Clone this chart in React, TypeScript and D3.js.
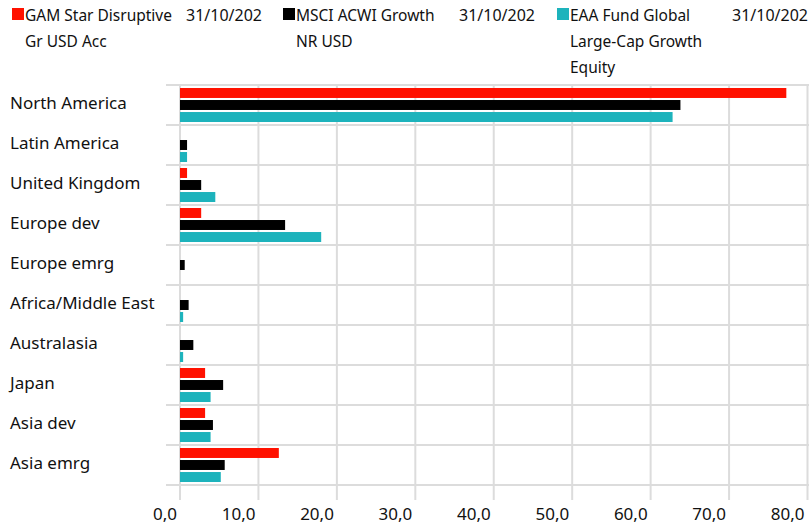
import * as d3 from 'd3';
import React, { useEffect, useRef } from 'react';

const categories = [
  'North America',
  'Latin America',
  'United Kingdom',
  'Europe dev',
  'Europe emrg',
  'Africa/Middle East',
  'Australasia',
  'Japan',
  'Asia dev',
  'Asia emrg',
];

const seriesColors = ['#ff1100', '#000000', '#1db3bc'];

const gamValues = [77.3, 0, 0.9, 2.7, 0, 0, 0, 3.2, 3.2, 12.6];
const msciValues = [63.8, 0.9, 2.7, 13.4, 0.6, 1.1, 1.7, 5.5, 4.2, 5.7];
const eaaValues = [62.8, 0.9, 4.5, 18.0, 0, 0.4, 0.4, 3.9, 3.9, 5.2];

const xTicks = [0, 10, 20, 30, 40, 50, 60, 70, 80];

// legend text lines, one column per series plus the date column
const legendLines = [
  ['GAM Star Disruptive', 'Gr USD Acc'],
  ['MSCI ACWI Growth', 'NR USD'],
  ['EAA Fund Global', 'Large-Cap Growth', 'Equity'],
];
const legendDate = '31/10/202';

const App: React.FC = () => {
  const svgRef = useRef<SVGSVGElement | null>(null);

  useEffect(() => {
    if (!svgRef.current) return;
    const width = 809;
    const height = 528;
    const margin = { top: 85, left: 180, right: 1, bottom: 43 };
    const font = '"Noto Sans", sans-serif';

    const svg = d3.select(svgRef.current);
    svg.selectAll('*').remove();

    const x = d3.scaleLinear().domain([0, 80]).range([margin.left, 807.5]);
    const y = d3.scaleBand().domain(categories).range([margin.top, height - margin.bottom]);
    const inner = d3.scaleBand().domain(['0', '1', '2']).range([3, 37]).paddingInner(0.17);

    const grid = svg.append('g');
    // horizontal grid lines
    const yLines = categories.map((c) => y(c)!).concat([y.range()[1]]);
    grid.selectAll('line.h')
      .data(yLines)
      .enter()
      .append('line')
      .attr('x1', 166)
      .attr('x2', width)
      .attr('y1', (d) => d)
      .attr('y2', (d) => d)
      .attr('stroke', '#dcdcdc')
      .attr('stroke-width', 2);
    // vertical grid lines
    grid.selectAll('line.v')
      .data(xTicks)
      .enter()
      .append('line')
      .attr('x1', (d) => x(d))
      .attr('x2', (d) => x(d))
      .attr('y1', margin.top)
      .attr('y2', 500)
      .attr('stroke', '#dcdcdc')
      .attr('stroke-width', 2);

    const data = categories.map((c, i) => ({
      cat: c,
      vals: [gamValues[i], msciValues[i], eaaValues[i]],
    }));

    const groups = svg.selectAll('g.cat')
      .data(data)
      .enter()
      .append('g')
      .attr('transform', (d) => `translate(0, ${y(d.cat)})`);

    groups.selectAll('rect')
      .data((d) => d.vals.map((v, k) => ({ v, k })))
      .enter()
      .append('rect')
      .attr('x', x(0))
      .attr('y', (d) => inner(String(d.k))!)
      .attr('width', (d) => x(d.v) - x(0))
      .attr('height', inner.bandwidth())
      .attr('fill', (d) => seriesColors[d.k]);

    // category labels
    svg.selectAll('text.cat')
      .data(categories)
      .enter()
      .append('text')
      .attr('x', 10)
      .attr('y', (d) => y(d)! + 19)
      .attr('dominant-baseline', 'middle')
      .attr('font-family', font)
      .attr('font-size', 17)
      .attr('fill', '#111')
      .text((d) => d);

    // x tick labels
    const fmt = (v: number) => d3.format('.1f')(v).replace('.', ',');
    svg.selectAll('text.tick')
      .data(xTicks)
      .enter()
      .append('text')
      .attr('x', (d) => x(d) - 3)
      .attr('y', 520)
      .attr('text-anchor', 'end')
      .attr('font-family', font)
      .attr('font-size', 17)
      .attr('fill', '#111')
      .text((d) => fmt(d));

    // legend
    const legendX = [12, 283, 557];
    const dateX = [186, 459, 732];
    const legend = svg.append('g');
    legendLines.forEach((lines, i) => {
      legend.append('rect')
        .attr('x', legendX[i])
        .attr('y', 8)
        .attr('width', 12)
        .attr('height', 12)
        .attr('fill', seriesColors[i]);
      lines.forEach((t, j) => {
        legend.append('text')
          .attr('x', legendX[i] + 13)
          .attr('y', 21 + j * 26)
          .attr('font-family', font)
          .attr('font-size', 15.5)
          .attr('fill', '#111')
          .text(t);
      });
      legend.append('text')
        .attr('x', dateX[i])
        .attr('y', 21)
        .attr('font-family', font)
        .attr('font-size', 16)
        .attr('fill', '#111')
        .text(legendDate);
    });
  }, []);

  return (
    <svg
      ref={svgRef}
      width={809}
      height={528}
      style={{ position: 'absolute', left: 0, top: 0, background: '#fff' }}
    />
  );
};

export default App;
